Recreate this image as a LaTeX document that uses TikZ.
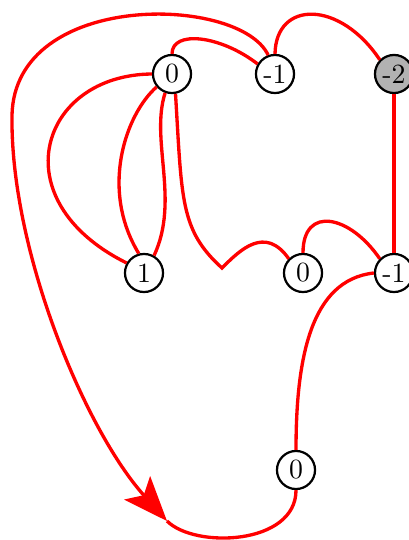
\documentclass[tikz,border=0pt]{standalone}
\usetikzlibrary{arrows.meta}
\tikzset{vx/.style = {circle, thick, minimum size=13.7pt, inner sep=0pt, draw, fill=white},
         gv/.style = {vx, fill=black!30},
         ed/.style = {red, very thick}}
\begin{document}
\begin{tikzpicture}[x=0.36pt, y=-0.36pt, >={Stealth[length=16pt, width=12.5pt, inset=3.5pt]}]
    \useasboundingbox (0,0) rectangle (408,540);
    \node[vx] (a) at (172,74) {0};
    \node[vx] (b) at (275,74) {-1};
    \node[gv] (c) at (394,74) {-2};
    \node[vx] (d) at (144,273) {1};
    \node[vx] (e) at (303,273) {0};
    \node[vx] (f) at (394,273) {-1};
    \node[vx] (g) at (296,470) {0};
    \coordinate (tip) at (167,521);
    \draw[ed, ->] (b.110) .. controls (240,-5) and (15,-10) .. (12,115)
                          .. controls (10,250) and (85,430) .. (tip);
    \draw[ed] (tip) .. controls (195,549) and (296,545) .. (g.south);
    \draw[ed] (a.north) .. controls (172,30) and (220,35) .. (b.150);
    \draw[ed] (b.north) .. controls (276,0) and (340,0) .. (c.135);
    \draw[ed] (c.south) -- (f.north);
    \draw[ed] (a.west) .. controls (40,75) and (0,200) .. (d.150);
    \draw[ed] (a.220) .. controls (125,115) and (100,190) .. (d.105);
    \draw[ed] (a.250) .. controls (150,140) and (180,200) .. (d.60);
    \draw[ed] (a.280) .. controls (182,200) and (180,230) .. (222,268)
                      .. controls (240,250) and (265,225) .. (e.135);
    \draw[ed] (e.north) .. controls (303,205) and (350,215) .. (f.135);
    \draw[ed] (f.west) .. controls (310,280) and (296,360) .. (g.north);
\end{tikzpicture}
\end{document}
